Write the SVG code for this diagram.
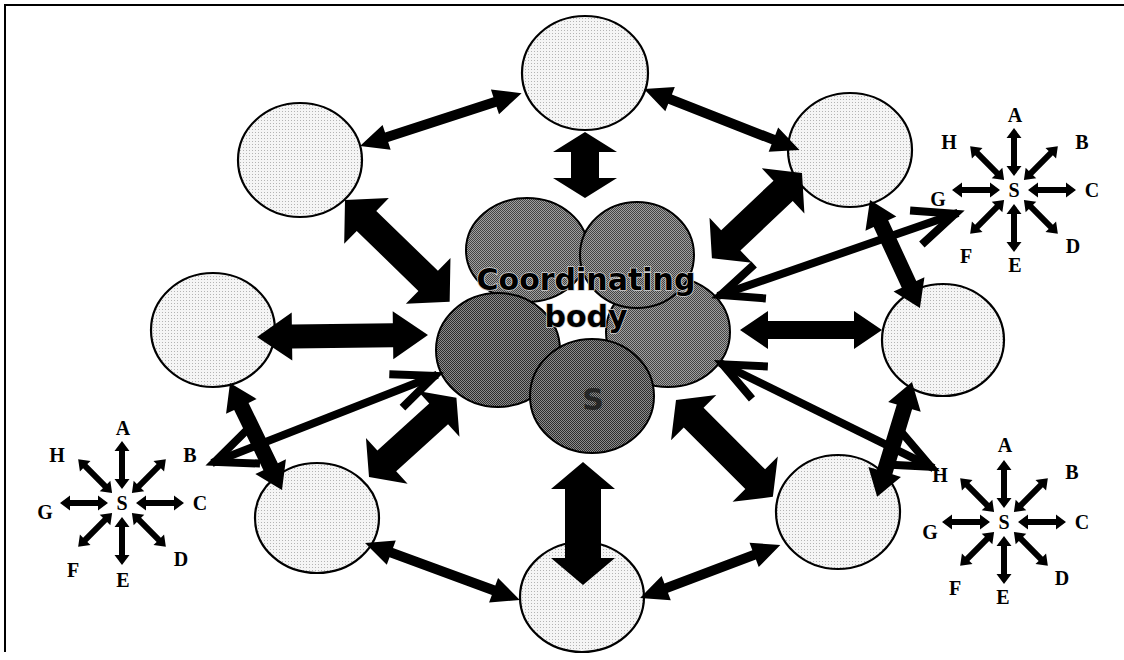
<svg xmlns="http://www.w3.org/2000/svg" xmlns:xlink="http://www.w3.org/1999/xlink" width="1124" height="660" viewBox="0 0 1124 660">
  <style>
    .outer { fill: url(#lt); stroke: #000; stroke-width: 2.2; }
    .inner { stroke: #000; stroke-width: 2; }
    .arw { fill: #000; }
    .vline { fill: none; stroke: #000; stroke-width: 8; stroke-linejoin: miter; stroke-miterlimit: 10; }
    .ltr { font-family: "Liberation Serif", "Times New Roman", serif; font-weight: bold; font-size: 20px; fill: #000; text-anchor: middle; }
    .title { font-family: "DejaVu Sans", Verdana, sans-serif; font-weight: bold; font-size: 30px; fill: #000; text-anchor: middle; stroke: #cfcfcf; stroke-width: 1.6; paint-order: stroke fill; }
  </style>
  <defs>
    <!-- light stippled fill for the outer members -->
    <pattern id="lt" width="3" height="3" patternUnits="userSpaceOnUse">
      <rect width="3" height="3" fill="#f5f5f5"/>
      <rect width="1" height="1" fill="#b4b4b4"/>
    </pattern>
    <!-- dithered grey for the coordinating body -->
    <pattern id="dk" width="2" height="2" patternUnits="userSpaceOnUse">
      <rect width="2" height="2" fill="#a0a0a0"/>
      <rect width="1" height="1" fill="#444"/>
      <rect x="1" y="1" width="1" height="1" fill="#444"/>
    </pattern>
    <pattern id="dk2" width="2" height="2" patternUnits="userSpaceOnUse">
      <rect width="2" height="2" fill="#8c8c8c"/>
      <rect width="1" height="1" fill="#2c2c2c"/>
      <rect x="1" y="1" width="1" height="1" fill="#2c2c2c"/>
    </pattern>
    <!-- small double arrow of the compass stars, laid along +x -->
    <path id="sa" d="M14,0 L24,-7.5 L24,-3 L52,-3 L52,-7.5 L62,0 L52,7.5 L52,3 L24,3 L24,7.5 Z" fill="#000"/>
  </defs>

  <!-- frame -->
  <path d="M5,652 V5 H1124" fill="none" stroke="#000" stroke-width="2"/>

  <!-- outer members -->
  <g id="n-top"><ellipse class="outer" cx="585" cy="73" rx="63" ry="57"/></g>
  <g id="n-topleft"><ellipse class="outer" cx="300" cy="160" rx="62" ry="57"/></g>
  <g id="n-topright"><ellipse class="outer" cx="850" cy="150" rx="62" ry="57"/></g>
  <g id="n-left"><ellipse class="outer" cx="213" cy="330" rx="62" ry="57"/></g>
  <g id="n-right"><ellipse class="outer" cx="943" cy="340" rx="61" ry="56"/></g>
  <g id="n-bottomleft"><ellipse class="outer" cx="317" cy="518" rx="62" ry="55"/></g>
  <g id="n-bottom"><ellipse class="outer" cx="582" cy="597" rx="62" ry="55"/></g>
  <g id="n-bottomright"><ellipse class="outer" cx="838" cy="512" rx="62" ry="57"/></g>

  <!-- coordinating body -->
  <g id="n-center">
    <ellipse class="inner" cx="527" cy="250" rx="61" ry="52" fill="url(#dk)"/>
    <ellipse class="inner" cx="668" cy="332" rx="62" ry="55" fill="url(#dk)"/>
    <ellipse class="inner" cx="637" cy="255" rx="57" ry="53" fill="url(#dk)"/>
    <ellipse class="inner" cx="498" cy="350" rx="62" ry="57" fill="url(#dk2)"/>
    <ellipse class="inner" cx="592" cy="396" rx="62" ry="57" fill="url(#dk2)"/>
    <text class="title" x="586" y="290">Coordinating</text>
    <text class="title" x="586" y="327">body</text>
    <text x="593" y="410" font-family="DejaVu Sans, sans-serif" font-weight="bold" font-size="30" fill="#262626" text-anchor="middle">S</text>
  </g>

  <!-- connectors -->
  <g id="connectors" class="arw">
    <!-- ring between outer members -->
    <path transform="translate(360,146) rotate(-18.1)" d="M0,0 L28,-13 L28,-5 L142,-5 L142,-13 L170,0 L142,13 L142,5 L28,5 L28,13 Z"/>
    <path transform="translate(644,89) rotate(21.4)" d="M0,0 L28,-13 L28,-5 L139,-5 L139,-13 L167,0 L139,13 L139,5 L28,5 L28,13 Z"/>
    <path transform="translate(365,543) rotate(20.2)" d="M0,0 L28,-13 L28,-5 L137,-5 L137,-13 L165,0 L137,13 L137,5 L28,5 L28,13 Z"/>
    <path transform="translate(640,598) rotate(-20.7)" d="M0,0 L28,-13 L28,-5 L122,-5 L122,-13 L150,0 L122,13 L122,5 L28,5 L28,13 Z"/>
    <path transform="translate(870,200) rotate(65.2)" d="M0,0 L26,-17 L26,-8 L93,-8 L93,-17 L119,0 L93,17 L93,8 L26,8 L26,17 Z"/>
    <path transform="translate(912,382) rotate(106.9)" d="M0,0 L26,-17 L26,-8 L94,-8 L94,-17 L120,0 L94,17 L94,8 L26,8 L26,17 Z"/>
    <path transform="translate(230,383) rotate(64.1)" d="M0,0 L26,-17 L26,-8 L93,-8 L93,-17 L119,0 L93,17 L93,8 L26,8 L26,17 Z"/>

    <!-- members to the coordinating body -->
    <path transform="translate(585,132) rotate(90)" d="M0,0 L20,-32 L20,-14 L46,-14 L46,-32 L66,0 L46,32 L46,14 L20,14 L20,32 Z"/>
    <path transform="translate(583,462) rotate(90)" d="M0,0 L27,-32 L27,-18 L96,-18 L96,-32 L123,0 L96,32 L96,18 L27,18 L27,32 Z"/>
    <path transform="translate(257,337) rotate(-0.7)" d="M0,0 L35,-24 L35,-12 L136,-12 L136,-24 L171,0 L136,24 L136,12 L35,12 L35,24 Z"/>
    <path transform="translate(740,330)" d="M0,0 L28,-19 L28,-9 L114,-9 L114,-19 L142,0 L114,19 L114,9 L28,9 L28,19 Z"/>
    <path transform="translate(345,200) rotate(44.2)" d="M0,0 L30,-32 L30,-14 L116,-14 L116,-32 L146,0 L116,32 L116,14 L30,14 L30,32 Z"/>
    <path transform="translate(802,173) rotate(136.6)" d="M0,0 L26,-31 L26,-14 L98,-14 L98,-31 L124,0 L98,31 L98,14 L26,14 L26,31 Z"/>
    <path transform="translate(369,477) rotate(-42.2)" d="M0,0 L24,-31 L24,-14 L94,-14 L94,-31 L118,0 L94,31 L94,14 L24,14 L24,31 Z"/>
    <path transform="translate(676,400) rotate(45)" d="M0,0 L25,-32 L25,-14 L112,-14 L112,-32 L137,0 L112,32 L112,14 L25,14 L25,32 Z"/>

    <!-- compass stars to the coordinating body -->
    <g transform="translate(718,296) rotate(-19.1)">
      <line class="vline" x1="0" y1="0" x2="254" y2="0"/>
      <polyline class="vline" points="44.5,-18 3,0 44.5,18"/>
      <polyline class="vline" points="209.5,-18 251,0 209.5,18"/>
    </g>
    <g transform="translate(212,463) rotate(-21.4)">
      <line class="vline" x1="0" y1="0" x2="242" y2="0"/>
      <polyline class="vline" points="44.5,-18 3,0 44.5,18"/>
      <polyline class="vline" points="197.5,-18 239,0 197.5,18"/>
    </g>
    <g transform="translate(720,363) rotate(26.2)">
      <line class="vline" x1="0" y1="0" x2="238" y2="0"/>
      <polyline class="vline" points="44.5,-18 3,0 44.5,18"/>
      <polyline class="vline" points="193.5,-18 235,0 193.5,18"/>
    </g>
  </g>

  <!-- compass star, upper right -->
  <g id="star-upper-right" transform="translate(1014,190)">
    <use xlink:href="#sa" transform="rotate(-90)"/>
    <use xlink:href="#sa" transform="rotate(-45)"/>
    <use xlink:href="#sa"/>
    <use xlink:href="#sa" transform="rotate(45)"/>
    <use xlink:href="#sa" transform="rotate(90)"/>
    <use xlink:href="#sa" transform="rotate(135)"/>
    <use xlink:href="#sa" transform="rotate(180)"/>
    <use xlink:href="#sa" transform="rotate(225)"/>
    <text class="ltr" x="0" y="7">S</text>
    <text class="ltr" x="1" y="-68">A</text>
    <text class="ltr" x="68" y="-41">B</text>
    <text class="ltr" x="78" y="7">C</text>
    <text class="ltr" x="59" y="63">D</text>
    <text class="ltr" x="1" y="82">E</text>
    <text class="ltr" x="-48" y="73">F</text>
    <text class="ltr" x="-76" y="16">G</text>
    <text class="ltr" x="-65" y="-41">H</text>
  </g>

  <!-- compass star, lower left -->
  <g id="star-lower-left" transform="translate(122,503)">
    <use xlink:href="#sa" transform="rotate(-90)"/>
    <use xlink:href="#sa" transform="rotate(-45)"/>
    <use xlink:href="#sa"/>
    <use xlink:href="#sa" transform="rotate(45)"/>
    <use xlink:href="#sa" transform="rotate(90)"/>
    <use xlink:href="#sa" transform="rotate(135)"/>
    <use xlink:href="#sa" transform="rotate(180)"/>
    <use xlink:href="#sa" transform="rotate(225)"/>
    <text class="ltr" x="0" y="7">S</text>
    <text class="ltr" x="1" y="-68">A</text>
    <text class="ltr" x="68" y="-41">B</text>
    <text class="ltr" x="78" y="7">C</text>
    <text class="ltr" x="59" y="63">D</text>
    <text class="ltr" x="1" y="84">E</text>
    <text class="ltr" x="-49" y="74">F</text>
    <text class="ltr" x="-77" y="16">G</text>
    <text class="ltr" x="-65" y="-41">H</text>
  </g>

  <!-- compass star, lower right -->
  <g id="star-lower-right" transform="translate(1004,522)">
    <use xlink:href="#sa" transform="rotate(-90)"/>
    <use xlink:href="#sa" transform="rotate(-45)"/>
    <use xlink:href="#sa"/>
    <use xlink:href="#sa" transform="rotate(45)"/>
    <use xlink:href="#sa" transform="rotate(90)"/>
    <use xlink:href="#sa" transform="rotate(135)"/>
    <use xlink:href="#sa" transform="rotate(180)"/>
    <use xlink:href="#sa" transform="rotate(225)"/>
    <text class="ltr" x="0" y="7">S</text>
    <text class="ltr" x="1" y="-70">A</text>
    <text class="ltr" x="68" y="-43">B</text>
    <text class="ltr" x="78" y="7">C</text>
    <text class="ltr" x="58" y="63">D</text>
    <text class="ltr" x="-1" y="82">E</text>
    <text class="ltr" x="-49" y="73">F</text>
    <text class="ltr" x="-74" y="17">G</text>
    <text class="ltr" x="-64" y="-40">H</text>
  </g>
</svg>
